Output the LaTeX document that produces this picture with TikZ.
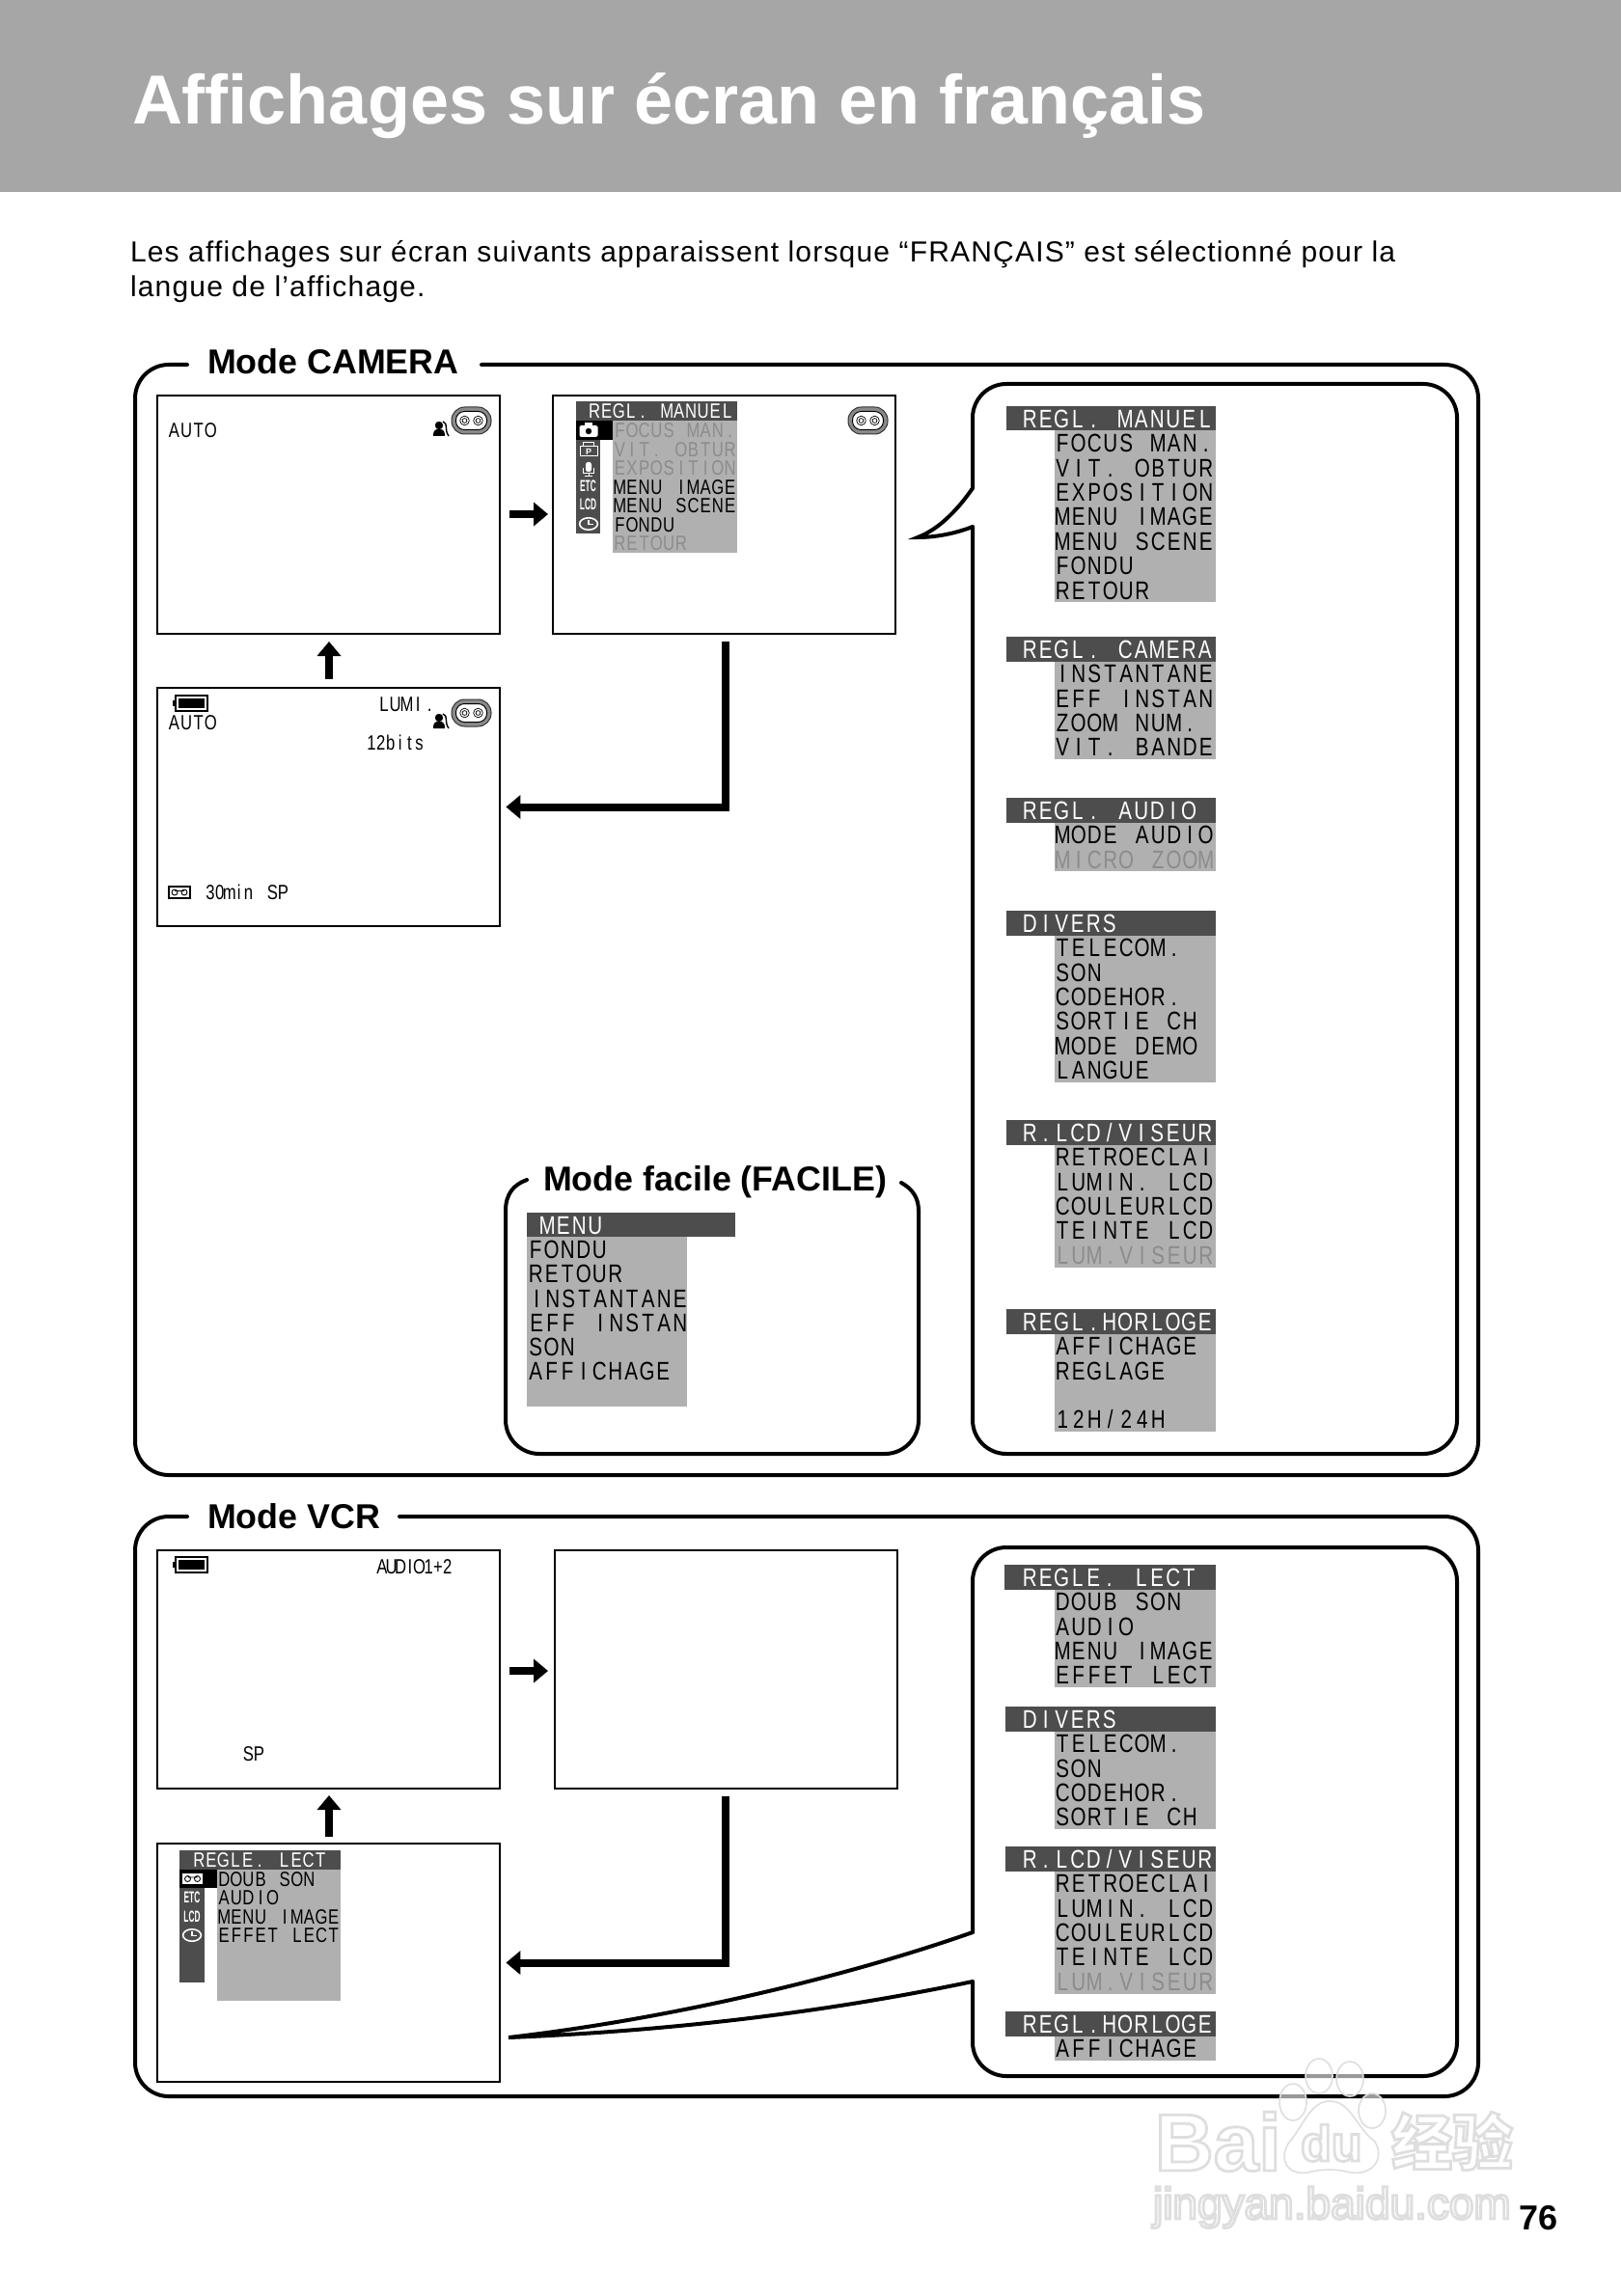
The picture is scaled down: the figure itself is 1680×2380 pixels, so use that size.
\documentclass[tikz,border=0pt]{standalone}
\usepackage{fontspec}
\setmainfont{Liberation Sans}
\usetikzlibrary{arrows.meta}
\newfontfamily\osdB[FakeStretch=0.78]{Liberation Sans}
\newfontfamily\osdN[FakeStretch=0.5]{Liberation Sans}
\newfontfamily\cjkf{Noto Sans CJK SC}
\newfontfamily\introf[LetterSpace=3.95]{Liberation Sans}
\definecolor{banner}{HTML}{A6A6A6}
\definecolor{hdr}{HTML}{4D4D4D}
\definecolor{bodygrey}{HTML}{B0B0B0}
\definecolor{dim}{HTML}{8C8C8C}
\definecolor{tapegrey}{HTML}{8A8A8A}
\definecolor{wm}{HTML}{DEDEDE}
\ExplSyntaxOn
\cs_new_protected:Npn \my_mono:nn #1#2 { \str_map_inline:nn {#1} { \makebox[#2][c]{##1} } }
\NewDocumentCommand\monotext{mm}{ \exp_args:No \my_mono:nn {#2}{#1} }
\ExplSyntaxOff
\newcounter{lb}
\newcommand\outlined[1]{\special{pdf:code 2 Tr 1.4 w 0.87 G}#1\special{pdf:code 0 Tr 0.4 w 0 G}}
\tikzset{
 labeltext/.style={inner sep=0pt,outer sep=0pt,anchor=base west},
 framepath/.style={line width=2pt,line cap=round,rounded corners=17.5pt},
 calloutpath/.style={line width=2pt,line cap=round,line join=miter},
 screenA/.style={draw,line width=1.3pt,inner sep=0pt,outer sep=0pt,anchor=north west,minimum width=177.5pt,minimum height=123.5pt},
 screenB/.style={draw,line width=.6pt,inner sep=0pt,outer sep=0pt,anchor=north west,minimum width=177.5pt,minimum height=123.5pt},
 flowarrow/.style={line width=4.3pt,-{Triangle[length=7.5pt,width=12pt]}},
 bentarrow/.style={line width=4pt,line join=miter,-{Triangle[length=7.5pt,width=12pt]}},
 headline/.style={labeltext,font=\bfseries\fontsize{17.9}{22}\selectfont},
 iconlabel/.style={text=white,inner sep=0pt,font=\osdN\bfseries\fontsize{8.3}{9}\selectfont},
 wmtext/.style={labeltext,text=white}
}
\newcommand\brow[4][black]{\stepcounter{lb}\node[labeltext,text=#1] (lb\arabic{lb}) at ({#2},{#3+9.5}) {\fontsize{13.2}{15}\osdB\monotext{8.25pt}{#4}};}
\newcommand\srow[5][black]{\stepcounter{lb}\node[labeltext,text=#1] (lb\arabic{lb}) at ({#2},{#3+7.7}) {\fontsize{10.7}{12}\osdB\monotext{#4}{#5}};}
\newcommand\bmenu[5]{%
 \fill[hdr] (#1,#2) rectangle (1260,{#2+25.5});
 \fill[bodygrey] (1093,{#2+25.5}) rectangle (1260,{#2+25.5+25.4*#4});
 \brow[white]{1059}{#2+12.7}{#3}
 \foreach \t/\c [count=\i] in {#5}{\brow[\c]{1093}{#2+25.5+25.4*(\i-0.5)}{\t}}
}
\newcommand\tapeicon[2]{\begin{scope}[shift={(#1,#2)}]
 \filldraw[fill=tapegrey,draw=black!80,line width=.5pt,rounded corners=6.8pt] (-20.5,-14) rectangle (20.5,14);
 \filldraw[fill=white,draw=black,line width=.5pt,rounded corners=4.4pt] (-16,-9.5) rectangle (16,9.5);
 \foreach \p in {-7,7}{\draw[line width=.35pt] (\p,0) circle[radius=2.4pt] (\p,0) circle[radius=1.2pt];}
\end{scope}}
\newcommand\personicon[2]{\begin{scope}[shift={(#1,#2)}]
 \fill (0,-5) circle[radius=2.1pt];
 \fill (-6,6) .. controls (-6,-1) and (-3,-1) .. (0,-1) .. controls (3,-1) and (6,-1) .. (6,6) -- cycle;
 \draw[line width=.7pt] (4,-9) .. controls (10,-7) and (5,-1) .. (10,6);
\end{scope}}
\newcommand\clockicon[2]{\begin{scope}[shift={(#1,#2)}]
 \draw[white,line width=.8pt] (0,0) ellipse[x radius=4.7pt,y radius=3.1pt];
 \draw[white,line width=.7pt] (0,-4) -- (0,0.5) -- (5,0.5);
\end{scope}}
\newcommand\battery[2]{\begin{scope}[shift={(#1,#2)}]
 \fill (-19,-3) rectangle (-16,3);
 \draw[line width=.6pt] (-16,-8) rectangle (17,8);
 \fill (-13,-5) rectangle (14,4.5);
\end{scope}}
\newcommand\cassette[3]{\begin{scope}[shift={(#1,#2)}]
 \draw[#3,line width=.7pt] (-11,-6) rectangle (11,6);
 \draw[#3,line width=.45pt] (-5,0) circle[radius=1.5pt] (5,0) circle[radius=1.5pt] (-5,-1.5) -- (5,-1.5);
\end{scope}}
\begin{document}
\begin{tikzpicture}[x=0.5pt,y=-0.5pt]
\useasboundingbox (0,0) rectangle (1680,2380);
\fill[white] (0,0) rectangle (1680,2380);
\fill[banner] (0,0) rectangle (1680,199);
\node[labeltext,text=white,font=\bfseries\fontsize{36}{40}\selectfont] (title) at (137,129) {Affichages sur écran en français};
\node[labeltext,font=\introf\fontsize{15}{18}\selectfont] (intro1) at (135,272) {Les affichages sur écran suivants apparaissent lorsque “FRANÇAIS” est sélectionné pour la};
\node[labeltext,font=\introf\fontsize{15}{18}\selectfont] (intro2) at (135,308) {langue de l’affichage.};

% frames
\draw[framepath] (499,378) -- (1532,378) -- (1532,1529) -- (140,1529) -- (140,378) -- (194,378);
\node[headline] (modecam) at (215,388) {Mode CAMERA};
\draw[framepath] (1008,546) -- (1008,1507) -- (1510,1507) -- (1510,398) -- (1008,398) -- (1008,506);
\draw[calloutpath] (1008,506) .. controls (995,525) and (975,548) .. (951,557) .. controls (970,557) and (990,553) .. (1008,546);
\draw[framepath] (952,1255) -- (952,1507) -- (524,1507) -- (524,1255);
\draw[calloutpath] (546,1223) .. controls (532,1228) and (524,1238) .. (524,1255);
\draw[calloutpath] (934,1226) .. controls (945,1232) and (952,1241) .. (952,1255);
\node[headline] (modefac) at (563,1234) {Mode facile (FACILE)};
\draw[framepath] (414,1572) -- (1532,1572) -- (1532,2173) -- (140,2173) -- (140,1572) -- (194,1572);
\node[headline] (modevcr) at (215,1584) {Mode VCR};
\draw[framepath] (1008,2054) -- (1008,2152) -- (1510,2152) -- (1510,1604) -- (1008,1604) -- (1008,2003);
\draw[calloutpath] (1008,2003) .. controls (880,2048) and (700,2092) .. (527,2112) .. controls (700,2105) and (860,2085) .. (1008,2054);

% screens
\node[screenA] (s1) at (163,410) {};
\node[screenA] (s2) at (573,410) {};
\node[screenA] (s3) at (163,713) {};
\node[screenB] (v1) at (163,1607) {};
\node[screenB] (v2) at (575,1607) {};
\node[screenB] (v3) at (163,1911) {};

% connectors
\draw[flowarrow,shorten <=5pt,shorten >=2.5pt] (s1.east |- 0,533) -- (s2.west |- 0,533);
\draw[flowarrow,shorten <=4.5pt,shorten >=4pt] ([xshift=.25pt]s3.north) -- ([xshift=.25pt]s1.south);
\draw[bentarrow,shorten <=4pt,shorten >=3.2pt] ([xshift=.5pt]s2.south) |- (s3.east);
\draw[flowarrow,shorten <=5pt,shorten >=3.5pt] (v1.east |- 0,1732) -- (v2.west |- 0,1732);
\draw[flowarrow,shorten <=3.5pt,shorten >=3.5pt] ([xshift=.25pt]v3.north) -- ([xshift=.25pt]v1.south);
\draw[bentarrow,shorten <=4pt,shorten >=3.2pt] ([xshift=-.5pt]v2.south) |- (v3.east);

% screen 1
\srow{174}{446}{6.35pt}{AUTO}
\personicon{455}{446}
\tapeicon{488.5}{436}
% screen 3
\battery{198}{729}
\srow{174}{749}{6.35pt}{AUTO}
\srow{392}{730}{5.9pt}{LUMI.}
\personicon{455}{749}
\tapeicon{488.5}{739}
\srow{380}{770}{4.95pt}{12bits}
\cassette{186}{925}{black}
\srow{213}{925}{4.95pt}{30min}
\srow{277}{925}{5.5pt}{SP}
% screen 2 menu
\tapeicon{899.5}{436}
\fill[hdr] (597,416) rectangle (764,436.5);
\fill[hdr] (597,436.5) rectangle (622,553);
\fill[black] (597,436.5) rectangle (635,456);
\fill[bodygrey] (635,436.5) rectangle (764,573);
\srow[white]{610}{426}{6.25pt}{REGL. MANUEL}
\srow[dim]{636}{446}{6.35pt}{FOCUS MAN.}
\srow[dim]{636}{465.5}{6.35pt}{VIT. OBTUR}
\srow[dim]{636}{485}{6.35pt}{EXPOSITION}
\srow{636}{504.5}{6.35pt}{MENU IMAGE}
\srow{636}{524}{6.35pt}{MENU SCENE}
\srow{636}{543.5}{6.35pt}{FONDU}
\srow[dim]{636}{563}{6.35pt}{RETOUR}
\begin{scope}[shift={(610,446)}]
 \fill[white,rounded corners=.8pt] (-9.5,-5) rectangle (9.5,7);
 \fill[white] (-4,-8) rectangle (4,-4);
 \fill[black] (0,1) circle[radius=1.6pt];
\end{scope}
\begin{scope}[shift={(610,466)}]
 \draw[white,line width=.5pt] (-9,-3) rectangle (9,7) (-6,-3) -- (-6,-7) -- (5,-7) -- (5,-3);
 \stepcounter{lb}\node[text=white,inner sep=0pt,font=\bfseries\fontsize{4.5}{5}\selectfont] (lb\arabic{lb}) at (0,2) {P};
\end{scope}
\begin{scope}[shift={(610,485)}]
 \fill[white,rounded corners=1.2pt] (-3,-6) rectangle (3,4);
 \draw[white,line width=.5pt] (-5.5,0) -- (-5.5,5.5) -- (5.5,5.5) -- (5.5,0) (0,5.5) -- (0,8) (-4,8) -- (4,8);
\end{scope}
\stepcounter{lb}\node[iconlabel] (lb\arabic{lb}) at (609.5,504) {ETC};
\stepcounter{lb}\node[iconlabel] (lb\arabic{lb}) at (609.5,523) {LCD};
\clockicon{610}{543}

% camera right menus
\bmenu{1043}{421}{REGL. MANUEL}{7}{FOCUS MAN./black,VIT. OBTUR/black,EXPOSITION/black,MENU IMAGE/black,MENU SCENE/black,FONDU/black,RETOUR/black}
\bmenu{1043}{660}{REGL. CAMERA}{4}{INSTANTANE/black,EFF INSTAN/black,ZOOM NUM./black,VIT. BANDE/black}
\bmenu{1043}{827}{REGL. AUDIO}{2}{MODE AUDIO/black,MICRO ZOOM/dim}
\bmenu{1043}{944}{DIVERS}{6}{TELECOM./black,SON/black,CODEHOR./black,SORTIE CH/black,MODE DEMO/black,LANGUE/black}
\bmenu{1043}{1161}{R.LCD/VISEUR}{5}{RETROECLAI/black,LUMIN. LCD/black,COULEURLCD/black,TEINTE LCD/black,LUM.VISEUR/dim}
\bmenu{1043}{1357}{REGL.HORLOGE}{4}{AFFICHAGE/black,REGLAGE/black,{}/black,{12H/24H}/black}

% facile
\fill[hdr] (546,1257) rectangle (762,1282);
\fill[bodygrey] (546,1282) rectangle (712,1458);
\brow[white]{559}{1270}{MENU}
\brow{547}{1295}{FONDU}
\brow{547}{1320}{RETOUR}
\brow{548}{1346}{INSTANTANE}
\brow{548}{1371}{EFF INSTAN}
\brow{547}{1396}{SON}
\brow{547}{1421}{AFFICHAGE}

% VCR right menus
\bmenu{1041}{1622}{REGLE. LECT}{4}{DOUB SON/black,AUDIO/black,MENU IMAGE/black,EFFET LECT/black}
\bmenu{1042}{1769}{DIVERS}{4}{TELECOM./black,SON/black,CODEHOR./black,SORTIE CH/black}
\bmenu{1042}{1914}{R.LCD/VISEUR}{5}{RETROECLAI/black,LUMIN. LCD/black,COULEURLCD/black,TEINTE LCD/black,LUM.VISEUR/dim}
\bmenu{1042}{2085}{REGL.HORLOGE}{1}{AFFICHAGE/black}

% VCR screens
\battery{198}{1622}
\srow{391}{1624}{4.85pt}{AUDIO1+2}
\srow{252}{1818}{5.5pt}{SP}
\fill[hdr] (186,1918) rectangle (353,1938);
\fill[hdr] (186,1938) rectangle (212,2055);
\fill[black] (186,1938) rectangle (225,1957);
\fill[bodygrey] (225,1938) rectangle (353,2074);
\fill[white] (189,1941) rectangle (210,1954);
\cassette{199.5}{1947.5}{black}
\srow[white]{200}{1928}{6.3pt}{REGLE. LECT}
\srow{226}{1948}{6.3pt}{DOUB SON}
\srow{226}{1967}{6.3pt}{AUDIO}
\srow{226}{1987}{6.3pt}{MENU IMAGE}
\srow{226}{2006}{6.3pt}{EFFET LECT}
\stepcounter{lb}\node[iconlabel] (lb\arabic{lb}) at (199,1967) {ETC};
\stepcounter{lb}\node[iconlabel] (lb\arabic{lb}) at (199,1987) {LCD};
\clockicon{199}{2006}

% watermark
\foreach \a/\b/\rx/\ry in {1367/2152/7/9,1399/2155/7/9,1340/2179/7/9.5,1422/2188/7/9}{\filldraw[fill=white,fill opacity=.6,draw=wm,line width=.8pt] (\a,\b) ellipse[x radius=\rx pt,y radius=\ry pt];}
\filldraw[fill=white,draw=wm,line width=.8pt] (1378,2178) .. controls (1400,2178) and (1405,2205) .. (1425,2220) .. controls (1436,2240) and (1420,2255) .. (1400,2252) .. controls (1385,2248) and (1370,2248) .. (1355,2252) .. controls (1335,2255) and (1325,2240) .. (1335,2222) .. controls (1350,2205) and (1358,2178) .. (1378,2178) -- cycle;
\node[wmtext] (wm1) at (1197,2250) {\outlined{\bfseries\fontsize{42}{46}\selectfont Bai}};
\node[wmtext] (wm2) at (1348,2240) {\outlined{\bfseries\fontsize{26}{28}\selectfont du}};
\node[wmtext] (wm3) at (1442,2244) {\outlined{\cjkf\bfseries\fontsize{31.5}{34}\selectfont 经验}};
\node[wmtext] (wm4) at (1195,2300) {\outlined{\fontsize{23}{25}\selectfont jingyan.baidu.com}};
\node[labeltext,font=\bfseries\fontsize{18}{20}\selectfont] (pageno) at (1574,2311) {76};
\end{tikzpicture}
\end{document}
